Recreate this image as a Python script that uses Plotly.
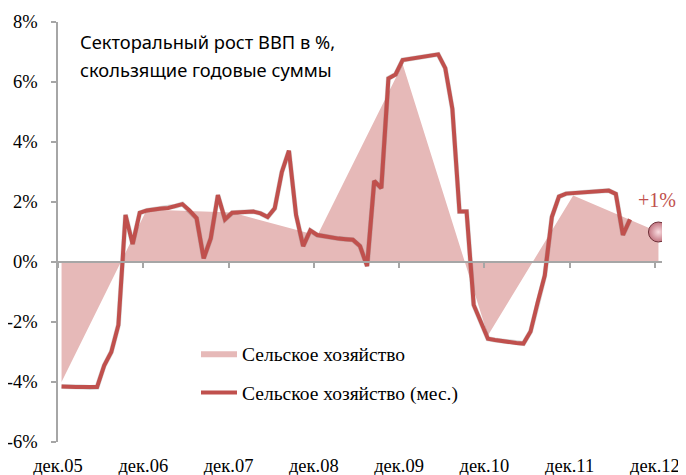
import numpy as np
import plotly.graph_objects as go

# ---- data ----
tick_labels = ["дек.05", "дек.06", "дек.07", "дек.08", "дек.09", "дек.10", "дек.11", "дек.12"]
annual_values = [-4.0, 1.75, 1.65, 0.88, 6.6, -2.45, 2.22, 1.0]   # Сельское хозяйство (Dec points)
monthly_values = [
    -4.15, -4.17, -4.17, -4.17, -4.18, -4.17, -3.45, -3.0, -2.1, 1.57,
    0.6, 1.64, 1.72, 1.76, 1.78, 1.8, 1.86, 1.93, 1.72, 1.46,
    0.12, 0.79, 2.23, 1.42, 1.64, 1.65, 1.66, 1.68, 1.62, 1.5,
    1.79, 3.0, 3.71, 1.57, 0.53, 1.05, 0.9, 0.85, 0.82, 0.78,
    0.76, 0.74, 0.53, -0.14, 2.7, 2.46, 6.12, 6.25, 6.73, 6.77,
    6.82, 6.86, 6.9, 6.92, 6.46, 5.1, 1.68, 1.68, -1.43, -2.0,
    -2.56, -2.6, -2.64, -2.67, -2.7, -2.72, -2.32, -1.35, -0.45, 1.5,
    2.18, 2.28, 2.3, 2.32, 2.34, 2.36, 2.37, 2.38, 2.27, 0.9,
    1.42,
]
y_tick_values = [-6, -4, -2, 0, 2, 4, 6, 8]

# month positions (data sit in the middle of each month slot)
x_month = np.arange(len(monthly_values)) + 0.5
x_annual = np.arange(len(annual_values)) * 12 + 0.5
tick_pos = [i * 12 for i in range(len(tick_labels))]
x_range = [0, 85]
y_range = [-6, 8]

AREA = "#e6b9b8"
LINE = "#c0504d"
AXIS = "#a6a6a6"
SERIF = "Liberation Serif, Times New Roman, serif"

# page body has an 8px margin -> figure drawn 8px right/down
OFF = 8
W, H = 686 - OFF, 475 - OFF
ml, mr, mt, mb = 58 - OFF, 21, 22 - OFF, 30
pw, ph = W - ml - mr, H - mt - mb
sx, sy = 3 / pw, 3 / ph
main_xdom = [0, 1 - sx]
main_ydom = [sy, 1]
zero_pos = main_ydom[0] + (main_ydom[1] - main_ydom[0]) * (0 - y_range[0]) / (y_range[1] - y_range[0])


def px_x(v):  # reference pixel -> paper x
    return (v - OFF - ml) / pw


def px_y(v):  # reference pixel -> paper y
    return (H - mb - (v - OFF)) / ph


fig = go.Figure()

# area (annual)
fig.add_trace(go.Scatter(
    x=x_annual, y=annual_values, mode="lines", fill="tozeroy",
    fillcolor=AREA, line=dict(width=0, color=AREA),
    name="Сельское хозяйство", legendgroup="a",
    xaxis="x", yaxis="y", hoverinfo="skip",
))

# shadow of monthly line
fig.add_trace(go.Scatter(
    x=x_month, y=monthly_values, mode="lines",
    line=dict(color="rgba(0,0,0,0.16)", width=5),
    showlegend=False, xaxis="x2", yaxis="y2", hoverinfo="skip",
))

# monthly line
fig.add_trace(go.Scatter(
    x=x_month, y=monthly_values, mode="lines",
    line=dict(color=LINE, width=4),
    name="Сельское хозяйство (мес.)", legendgroup="b",
    xaxis="x3", yaxis="y",
))

# end marker
fig.add_trace(go.Scatter(
    x=[x_annual[-1]], y=[annual_values[-1]], mode="markers",
    marker=dict(size=20, color="#c27480",
                gradient=dict(type="radial", color="#fadde1"),
                line=dict(color="#6e3038", width=1)),
    showlegend=False, xaxis="x3", yaxis="y",
))

fig.add_annotation(
    x=x_annual[-1], y=annual_values[-1], xref="x3", yref="y",
    text=f"+{annual_values[-1]:.0f}%", showarrow=False, yshift=32, xshift=-1,
    font=dict(family=SERIF, size=20, color=LINE),
)

title_font = dict(family="Noto Sans, sans-serif", size=18.3, color="#000000")
fig.add_annotation(x=px_x(78), y=px_y(42), xref="paper", yref="paper",
                   text="Секторальный рост ВВП в %,", showarrow=False,
                   xanchor="left", yanchor="middle", font=title_font)
fig.add_annotation(x=px_x(78), y=px_y(69), xref="paper", yref="paper",
                   text="скользящие годовые суммы", showarrow=False,
                   xanchor="left", yanchor="middle", font=title_font)

fig.update_layout(
    width=W, height=H,
    margin=dict(l=ml, r=mr, t=mt, b=mb, autoexpand=False),
    paper_bgcolor="white", plot_bgcolor="rgba(0,0,0,0)",
    showlegend=True,
    legend=dict(
        x=px_x(196), y=px_y(334), xanchor="left", yanchor="top",
        font=dict(family=SERIF, size=19.5, color="#000000"),
        bgcolor="rgba(0,0,0,0)", traceorder="grouped", tracegroupgap=11,
        itemwidth=36,
    ),
    xaxis=dict(
        domain=main_xdom, range=x_range, showgrid=False, zeroline=False,
        showline=False, tickmode="array", tickvals=tick_pos, ticktext=tick_labels,
        ticks="outside", ticklen=7, tickcolor="rgba(0,0,0,0)", automargin=False,
        tickfont=dict(family=SERIF, size=18.5, color="#000000"),
    ),
    yaxis=dict(
        domain=main_ydom, range=y_range, showgrid=False, zeroline=False,
        showline=True, linecolor=AXIS, linewidth=1.5, automargin=False,
        ticks="outside", ticklen=5, tickcolor=AXIS, tickwidth=1.5,
        tickmode="array", tickvals=y_tick_values,
        ticktext=[f"{v}%" for v in y_tick_values],
        tickfont=dict(family=SERIF, size=18.5, color="#000000"),
        ticklabelstandoff=10,
    ),
    xaxis2=dict(domain=[sx, 1], range=x_range, overlaying="x", anchor="y2",
                visible=False),
    yaxis2=dict(domain=[0, 1 - sy], range=y_range, overlaying="y", anchor="x2",
                visible=False),
    xaxis3=dict(domain=main_xdom, range=x_range, overlaying="x", anchor="free",
                position=zero_pos, showgrid=False, zeroline=False, automargin=False,
                showline=True, linecolor=AXIS, linewidth=1.5,
                ticks="outside", ticklen=5, tickcolor=AXIS, tickwidth=1.5,
                tickmode="array", tickvals=tick_pos, showticklabels=False),
)

fig.write_html("out.html")
